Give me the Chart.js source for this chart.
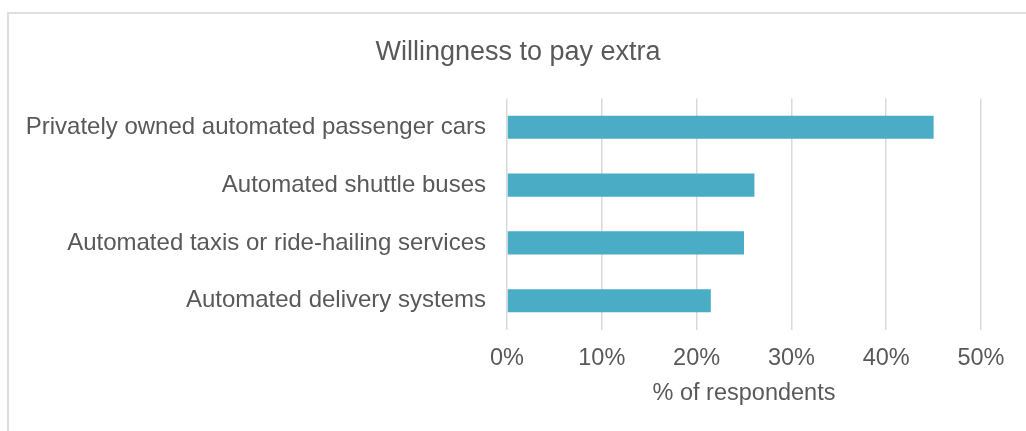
<!DOCTYPE html>
<html>
<head>
<meta charset="utf-8">
<script src="https://cdn.jsdelivr.net/npm/chart.js@4"></script>
<style>
  html, body { margin: 0; padding: 0; background: #fff; overflow: hidden; }
  #frame {
    position: absolute; left: 7px; top: 12px;
    width: 1100px; height: 500px;
    border-left: 2px solid #dedede; border-top: 2px solid #dedede;
  }
  #wrap { position: absolute; left: 0; top: 0; width: 1026px; height: 431px; }
</style>
</head>
<body>
<div id="frame"></div>
<div id="wrap"><canvas id="payChart"></canvas></div>
<script>

let categories = [
  "Privately owned automated passenger cars",
  "Automated shuttle buses",
  "Automated taxis or ride-hailing services",
  "Automated delivery systems"
];

// share of respondents willing to pay extra, in percent
let payExtra = [45.0, 26.1, 25.0, 21.5];

let xTicks = [0, 10, 20, 30, 40, 50];

let textGrey = '#595959';
let fontFamily = '"Liberation Sans", Arial, sans-serif';

// title is centred on the whole frame, not on the plot, so nudge its box
const titleShift = {
  id: 'titleShift',
  afterLayout(chart) {
    if (chart.titleBlock) chart.titleBlock.left += 55;
  }
};

let ctx = document.getElementById('payChart').getContext('2d');
let payChart = new Chart(ctx, {
  type: 'bar',
  data: {
    labels: categories,
    datasets: [{
      label: 'Willingness to pay extra',
      data: payExtra,
      backgroundColor: '#4BACC6',
      barPercentage: 0.4,
      categoryPercentage: 1.0,
    }]
  },
  plugins: [titleShift],
  options: {
    indexAxis: 'y',
    responsive: true,
    maintainAspectRatio: false,
    animation: false,
    layout: {
      padding: { left: 0, right: 45, top: 0, bottom: 20 }
    },
    plugins: {
      legend: { display: false },
      tooltip: { enabled: false },
      title: {
        display: true,
        text: 'Willingness to pay extra',
        color: textGrey,
        font: { family: fontFamily, size: 27, weight: 'normal' },
        padding: { top: 36, bottom: 30 }
      }
    },
    scales: {
      x: {
        min: 0,
        max: 50,
        afterBuildTicks: function(scale) {
          scale.ticks = xTicks.map(v => ({ value: v }));
        },
        ticks: {
          color: textGrey,
          padding: 15,
          font: { family: fontFamily, size: 23.5 },
          callback: v => v + '%'
        },
        grid: { color: '#d9d9d9', lineWidth: 1.5, drawTicks: false },
        border: { display: false },
        title: {
          display: true,
          text: '% of respondents',
          color: textGrey,
          font: { family: fontFamily, size: 23.5 },
          padding: { top: -8, bottom: 3 }
        }
      },
      y: {
        afterFit: function(scale) { scale.width = 507; },
        ticks: {
          color: textGrey,
          padding: 21,
          font: { family: fontFamily, size: 24 }
        },
        grid: { display: false, drawTicks: false },
        border: { display: false }
      }
    }
  }
});
</script>
</body>
</html>
